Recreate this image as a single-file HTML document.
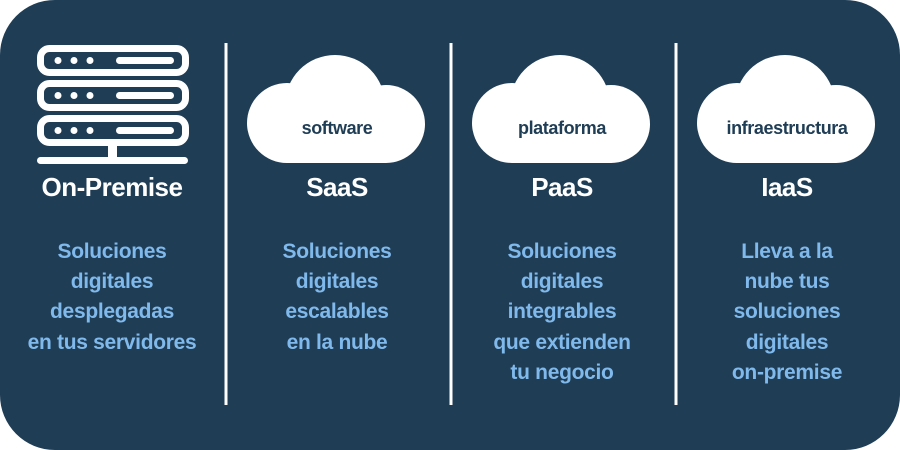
<!DOCTYPE html>
<html><head><meta charset="utf-8"><style>
html,body{margin:0;padding:0;background:#fff;width:900px;height:450px;overflow:hidden}
svg{display:block}
text{font-family:"Liberation Sans",sans-serif;font-weight:bold;text-anchor:middle}
.t{fill:#fff;font-size:26px;letter-spacing:-0.5px}
.b{fill:#80b9ec;font-size:21px;letter-spacing:-0.3px}
.c{fill:#1f3d55;font-size:18px;letter-spacing:-0.4px}
</style></head><body>
<svg width="900" height="450" viewBox="0 0 900 450">
<rect x="0" y="0" width="900" height="450" rx="55" ry="55" fill="#1f3d55"/>
<g stroke="#fff" stroke-width="3">
<line x1="226" y1="43" x2="226" y2="405"/>
<line x1="451" y1="43" x2="451" y2="405"/>
<line x1="676" y1="43" x2="676" y2="405"/>
</g>
<g fill="none" stroke="#fff" stroke-width="7">
<rect x="40.5" y="48.5" width="145" height="24" rx="9"/>
<rect x="40.5" y="83.5" width="145" height="24" rx="9"/>
<rect x="40.5" y="118.5" width="145" height="24" rx="9"/>
</g>
<g fill="#fff">
<circle cx="58" cy="60.5" r="3.5"/><circle cx="74" cy="60.5" r="3.5"/><circle cx="90" cy="60.5" r="3.5"/>
<rect x="116" y="57" width="58" height="7" rx="3.5"/>
<circle cx="58" cy="95.5" r="3.5"/><circle cx="74" cy="95.5" r="3.5"/><circle cx="90" cy="95.5" r="3.5"/>
<rect x="116" y="92" width="58" height="7" rx="3.5"/>
<circle cx="58" cy="130.5" r="3.5"/><circle cx="74" cy="130.5" r="3.5"/><circle cx="90" cy="130.5" r="3.5"/>
<rect x="116" y="127" width="58" height="7" rx="3.5"/>
<rect x="108" y="145" width="9" height="13"/>
<rect x="37" y="157" width="151" height="7" rx="3.5"/>
</g>
<g id="cl" fill="#fff">
<circle cx="335" cy="105" r="50"/>
<circle cx="287" cy="123" r="40"/>
<circle cx="386" cy="124" r="39"/>
<rect x="287" y="115" width="99" height="48"/>
</g>
<use href="#cl" x="225"/>
<use href="#cl" x="450"/>
<text class="c" x="337" y="134">software</text>
<text class="c" x="562" y="134">plataforma</text>
<text class="c" x="787" y="134">infraestructura</text>
<text class="t" x="112" y="196">On-Premise</text>
<text class="t" x="337" y="196">SaaS</text>
<text class="t" x="562" y="196">PaaS</text>
<text class="t" x="787" y="196">IaaS</text>
<text class="b" x="112" y="258">Soluciones</text>
<text class="b" x="112" y="288">digitales</text>
<text class="b" x="112" y="318">desplegadas</text>
<text class="b" x="112" y="349">en tus servidores</text>
<text class="b" x="337" y="258">Soluciones</text>
<text class="b" x="337" y="288">digitales</text>
<text class="b" x="337" y="318">escalables</text>
<text class="b" x="337" y="349">en la nube</text>
<text class="b" x="562" y="258">Soluciones</text>
<text class="b" x="562" y="288">digitales</text>
<text class="b" x="562" y="318">integrables</text>
<text class="b" x="562" y="349">que extienden</text>
<text class="b" x="562" y="379">tu negocio</text>
<text class="b" x="787" y="258">Lleva a la</text>
<text class="b" x="787" y="288">nube tus</text>
<text class="b" x="787" y="318">soluciones</text>
<text class="b" x="787" y="349">digitales</text>
<text class="b" x="787" y="379">on-premise</text>
</svg>
</body></html>
